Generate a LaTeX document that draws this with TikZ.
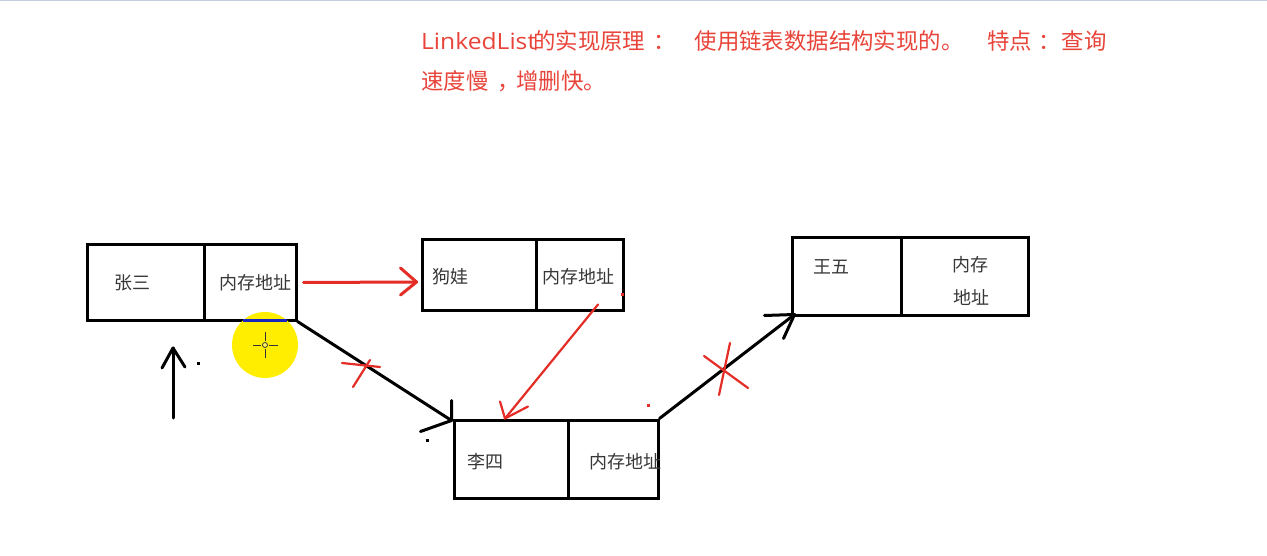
\documentclass[tikz,border=0pt]{standalone}
\usepackage{fontspec}
\setmainfont{Noto Sans CJK SC}
\newfontfamily\latinfont[FakeStretch=1.1]{Open Sans}
\usetikzlibrary{calc}
\definecolor{titlered}{RGB}{232,68,58}
\definecolor{arrred}{RGB}{228,45,38}
\definecolor{boxtext}{RGB}{55,55,55}
\definecolor{hlyellow}{RGB}{255,238,0}
\definecolor{topbar}{RGB}{196,208,224}
\definecolor{edgeblue}{RGB}{25,35,190}
\newcommand{\shiftpunct}[3]{\makebox[#1][l]{\hspace{#2}#3}}
\begin{document}
\begin{tikzpicture}[x=1pt,y=-1pt,
  cell/.style={draw=black, line width=3pt, inner sep=0pt, rectangle},
  lbl/.style={inner sep=0pt, text=boxtext, font=\fontsize{18}{22}\selectfont},
  titletext/.style={inner sep=0pt, text=titlered, font=\fontsize{22.4}{26}\selectfont},
  blk/.style={draw=black, line width=3pt, line cap=round, line join=round},
  redthick/.style={draw=arrred, line width=3pt, line cap=round, line join=round},
  redthin/.style={draw=arrred, line width=2.2pt, line cap=round, line join=round},
  dotmark/.style={inner sep=0pt, minimum size=3pt, fill=#1}]
\useasboundingbox (0,0) rectangle (1267,556);
\fill[white] (0,0) rectangle (1267,556);
\fill[topbar] (0,0) rectangle (1267,1.5);

% title
\node[titletext, anchor=base west] (t1) at (421,49.5)
  {\makebox[112pt][l]{\latinfont LinkedList}的实现原理\shiftpunct{49.5pt}{8pt}{：}使用链表数据结构实现的。\hspace{24pt}特点\shiftpunct{29.5pt}{6pt}{：}查询};
\node[titletext, anchor=base west] (t2) at (421,89.5)
  {速度慢\shiftpunct{27.8pt}{9pt}{，}增删快。};

% boxes
\node[cell, minimum width=117pt, minimum height=75pt] (zsL) at (145.5,282.5) {};
\node[cell, minimum width=92pt, minimum height=75pt] (zsR) at (250,282.5) {};
\node[cell, minimum width=114pt, minimum height=70pt] (gwL) at (479,275) {};
\node[cell, minimum width=87pt, minimum height=70pt] (gwR) at (579.5,275) {};
\node[cell, minimum width=114pt, minimum height=78pt] (lsL) at (511,459) {};
\node[cell, minimum width=90pt, minimum height=78pt] (lsR) at (613,459) {};
\node[cell, minimum width=109pt, minimum height=77pt] (wwL) at (846.5,276.5) {};
\node[cell, minimum width=127pt, minimum height=77pt] (wwR) at (964.5,276.5) {};

% labels
\node[lbl] (tzs) at (132,283) {张三};
\node[lbl] (tzsa) at (255,283) {内存地址};
\node[lbl] (tgw) at (450,277) {狗娃};
\node[lbl] (tgwa) at (578,277) {内存地址};
\node[lbl] (tls) at (485,462) {李四};
\node[lbl] (tlsa) at (625,462) {内存地址};
\node[lbl] (tww) at (831,267) {王五};
\node[lbl] (twwa) at (970,265) {内存};
\node[lbl] (twwb) at (971,297) {地址};

% red arrow zhangsan -> gouwa
\coordinate (r1s) at ([xshift=6pt]zsR.east);
\coordinate (r1t) at ([xshift=-4pt,yshift=-7pt]gwL.west);
\draw[redthick] (r1s) -- (r1t);
\draw[redthick] ($(r1t)+(-16,-14)$) -- (r1t) -- ($(r1t)+(-16,13)$);

% black arrow zhangsan -> lisi
\coordinate (b1t) at ([xshift=-1pt,yshift=-2pt]lsL.north west);
\draw[blk] (zsR.south east) -- (b1t);
\draw[blk] ($(b1t)+(0,-20)$) -- (b1t) -- ($(b1t)+(-31,11)$);

% black arrow lisi -> wangwu
\coordinate (b2t) at ([xshift=4pt,yshift=2pt]wwL.south west);
\draw[blk] (lsR.north east) -- (b2t);
\draw[blk] ($(b2t)+(-30,1)$) -- (b2t) -- ($(b2t)+(-11,24)$);

% red arrow gouwa -> lisi
\coordinate (r2s) at ([xshift=18.5pt,yshift=7pt]gwR.south);
\coordinate (r2t) at ([xshift=-6pt]lsL.north);
\draw[redthin] (r2s) -- (r2t);
\draw[redthin] ($(r2t)+(-5,-17)$) -- (r2t) -- ($(r2t)+(23,-12)$);

% vertical arrow
\coordinate (va) at (173,418);
\coordinate (vb) at (173,348);
\draw[blk] (va) -- (vb);
\draw[blk] ($(vb)+(-11,20)$) -- (vb) -- ($(vb)+(12,19)$);

% red crosses
\draw[redthin] (342,363) -- (380,367);
\draw[redthin] (353,387) -- (370,360);
\draw[redthin] (704,356) -- (748,388);
\draw[redthin] (730,343) -- (719,395);

% dots
\node[dotmark=black] (d1) at (198,363) {};
\node[dotmark=black] (d2) at (427,440) {};
\node[dotmark=arrred] (d3) at (622,295) {};
\node[dotmark=arrred] (d4) at (648,405) {};

% cursor highlight
\fill[hlyellow] (265,345) circle[radius=33pt];
\draw[edgeblue, line width=3pt] (243,320) -- (287,320);
\draw[black!80, line width=1pt] (253,345) -- (261,345) (269,345) -- (278,345)
  (265,332) -- (265,341) (265,349) -- (265,358);
\draw[black!80, line width=0.8pt, fill=hlyellow!60!white] (265,345) circle[radius=2.5pt];
\end{tikzpicture}
\end{document}
